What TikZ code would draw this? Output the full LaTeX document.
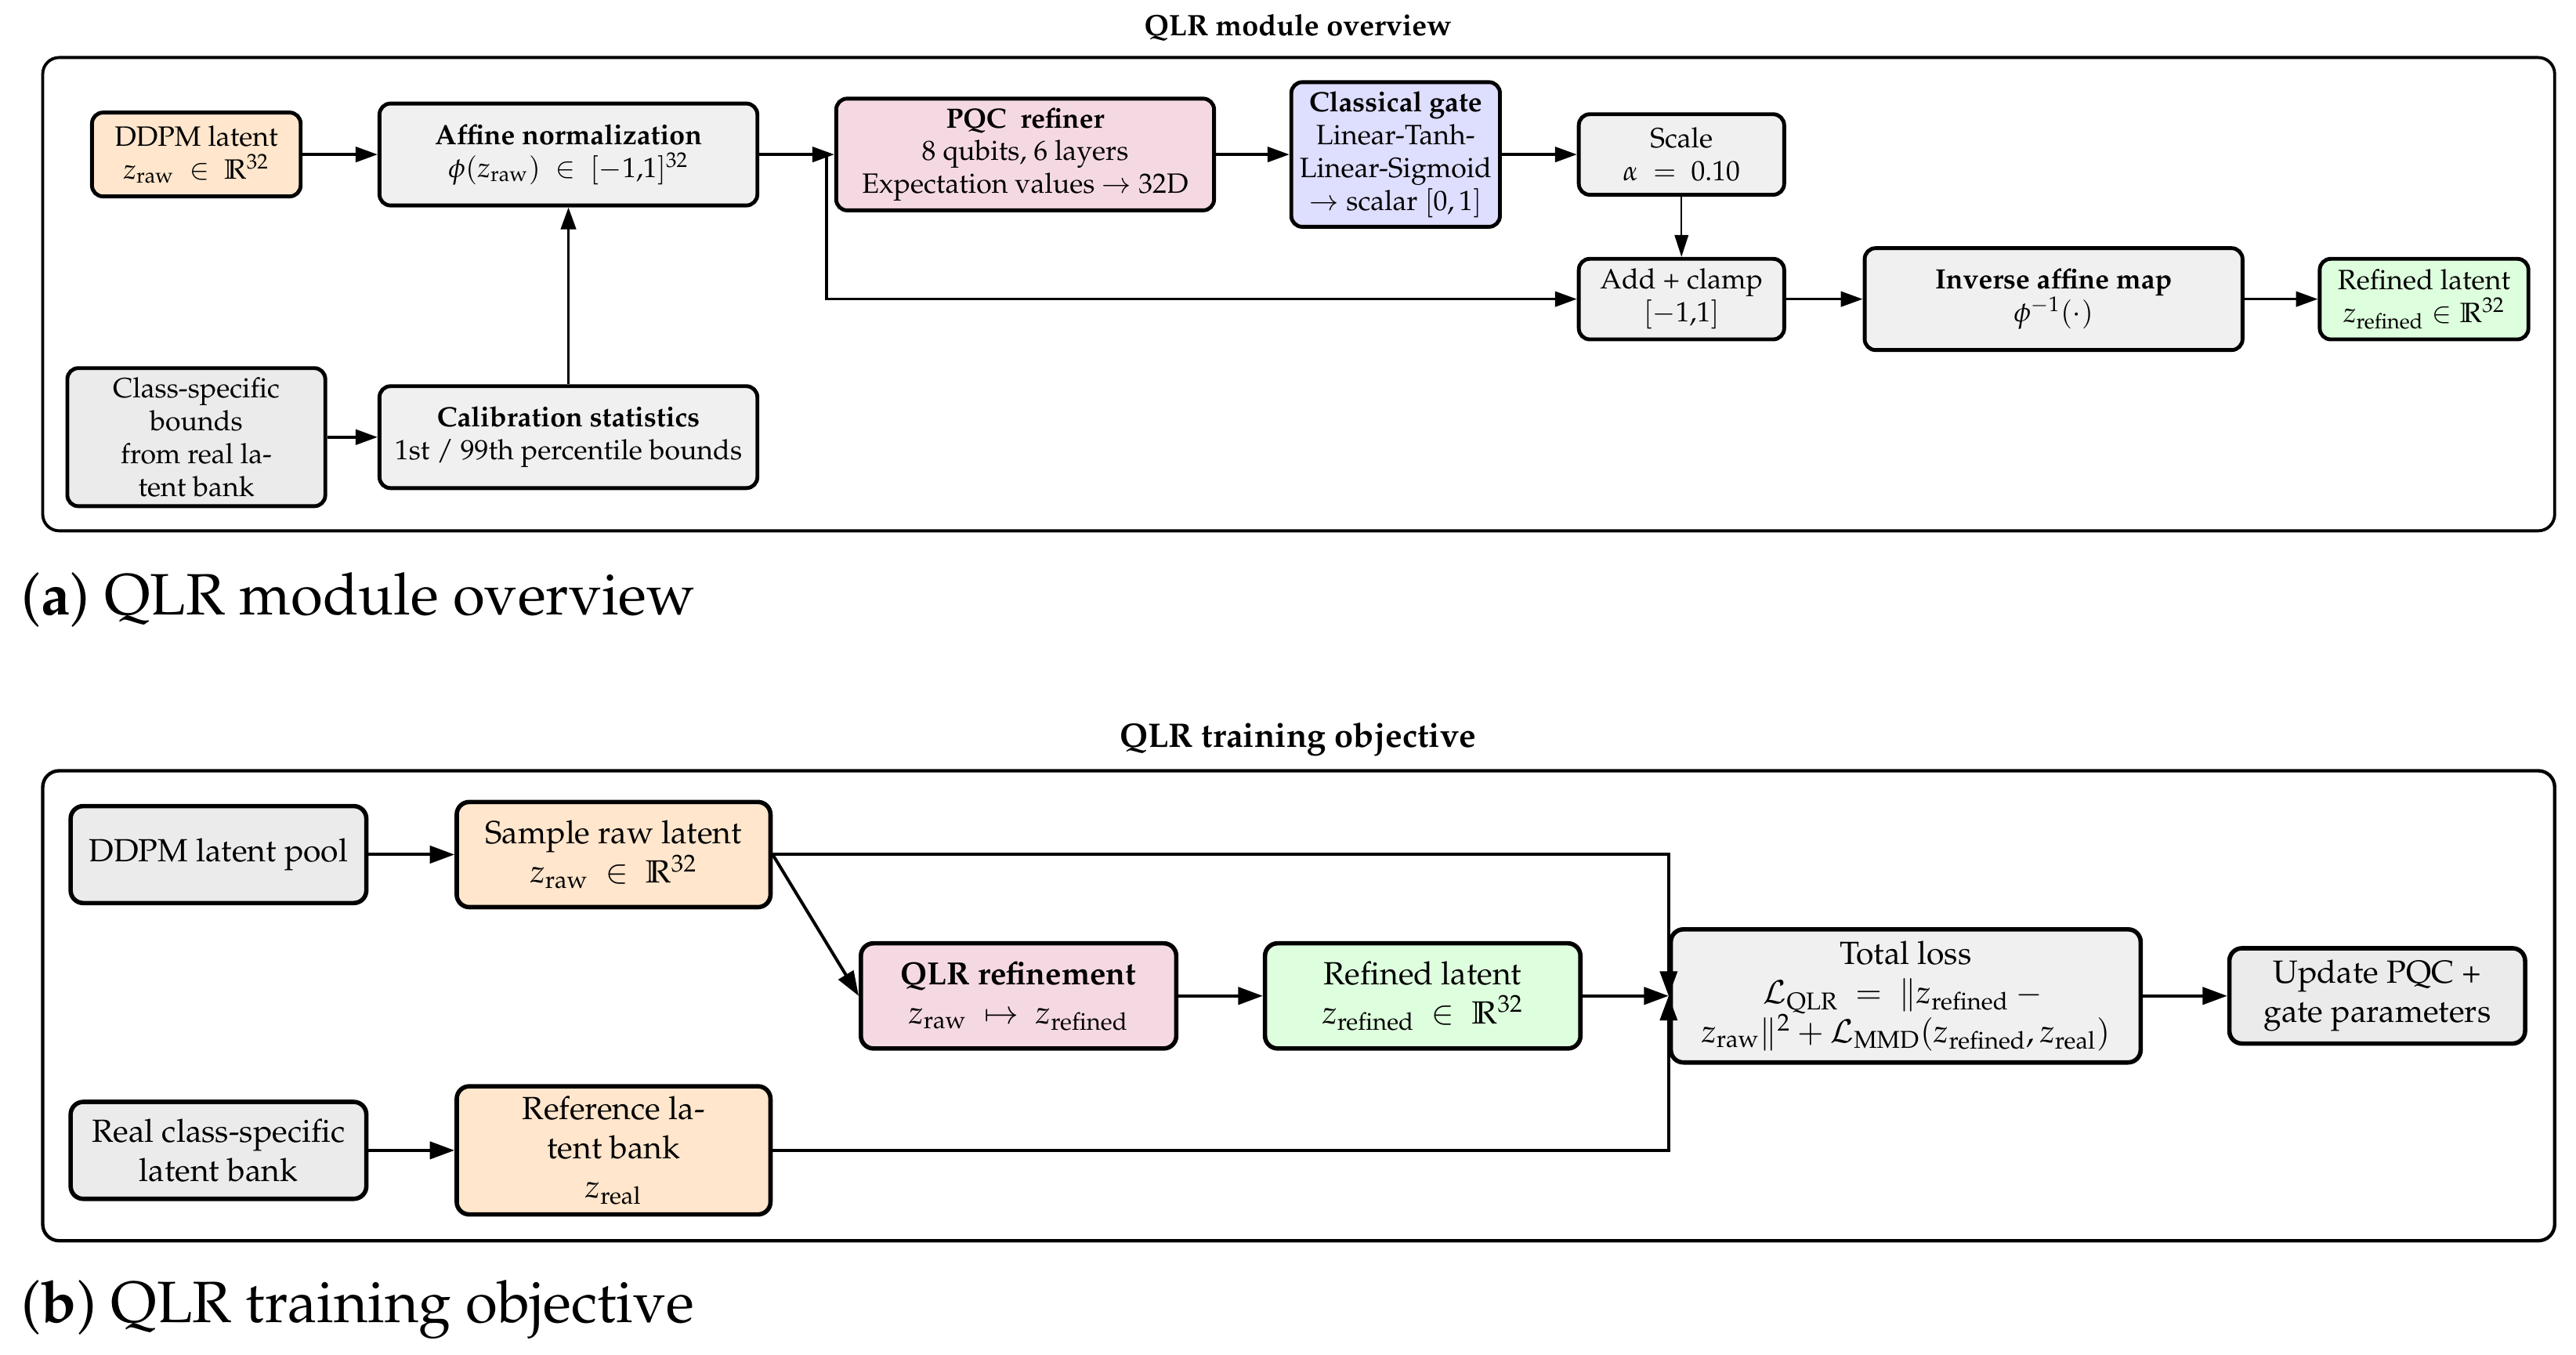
\documentclass[tikz,border=0pt]{standalone}
\usepackage[T1]{fontenc}
\usepackage{mathpazo}
\usetikzlibrary{arrows.meta,calc}
\definecolor{cgray}{RGB}{240,240,240}
\definecolor{cgrayd}{RGB}{235,235,235}
\definecolor{corange}{RGB}{255,230,204}
\definecolor{cpink}{RGB}{245,217,226}
\definecolor{cblue}{RGB}{222,222,255}
\definecolor{cgreen}{RGB}{222,255,222}
\begin{document}
\begin{tikzpicture}[x=0.6pt,y=-0.6pt,
 boxa/.style={draw,line width=1.4pt,rounded corners=4pt,align=center,inner sep=1pt,font=\fontsize{10.2}{12}\selectfont},
 boxb/.style={draw,line width=1.6pt,rounded corners=4.6pt,align=center,inner sep=1pt,font=\fontsize{11.7}{14.3}\selectfont},
 arra/.style={line width=1pt,-{Triangle[length=8pt,width=5.5pt]}},
 arrthin/.style={line width=0.6pt,-{Triangle[length=8pt,width=5pt]}},
 arrb/.style={line width=1.15pt,-{Triangle[length=9pt,width=6.3pt]}},
 frame/.style={line width=1.1pt,rounded corners=6pt},
 ttl/.style={font=\fontsize{10.8}{13}\selectfont\bfseries},
 ttlb/.style={font=\fontsize{12.4}{15}\selectfont\bfseries},
 capt/.style={anchor=west,inner sep=0pt,font=\fontsize{21.3}{25}\selectfont},
]
\useasboundingbox (0,0) rectangle (1568,824.5);

% ---------- panel (a) ----------
\node[ttl] (t1) at (790,17) {QLR module overview};
\draw[frame] (26,35) rectangle (1555,323);

\node[boxa,fill=corange,minimum width=76.2pt,minimum height=30.6pt] (ddpm) at (119.5,94)
 {DDPM latent\\$z_{\mathrm{raw}}\ \in\ \mathbb{R}^{32}$};
\node[boxa,fill=cgray,minimum width=138pt,minimum height=37.2pt] (affine) at (346,94)
 {\textbf{Affine normalization}\\$\phi(z_{\mathrm{raw}})\ \in\ [-1{,}1]^{32}$};
\node[boxa,fill=cpink,minimum width=138pt,minimum height=40.8pt] (pqc) at (624,94)
 {\textbf{PQC\ \ refiner}\\8 qubits, 6 layers\\Expectation values $\to$ 32D};
\node[boxa,fill=cblue,minimum width=76.2pt,minimum height=52.8pt] (gate) at (849.5,94)
 {\textbf{Classical gate}\\Linear-Tanh-\\Linear-Sigmoid\\$\to$ scalar $[0,1]$};
\node[boxa,fill=cgray,minimum width=75pt,minimum height=29.4pt] (scale) at (1023.5,94)
 {Scale\\$\alpha\ =\ 0.10$};
\node[boxa,fill=cgray,minimum width=75pt,minimum height=29.4pt] (add) at (1023.5,182)
 {Add + clamp\\$[-1{,}1]$};
\node[boxa,fill=cgray,minimum width=138pt,minimum height=37.2pt] (inv) at (1250,182)
 {\textbf{Inverse affine map}\\$\phi^{-1}(\cdot)$};
\node[boxa,fill=cgreen,minimum width=76.2pt,minimum height=29.4pt] (refined) at (1475.5,182)
 {Refined latent\\$z_{\mathrm{refined}}\in\mathbb{R}^{32}$};
\node[boxa,fill=cgrayd,minimum width=94.2pt,minimum height=50.4pt] (classb) at (119.5,266)
 {Class-specific\\bounds\\from real la-\\tent bank};
\node[boxa,fill=cgray,minimum width=138pt,minimum height=37.2pt] (calib) at (346,266)
 {\textbf{Calibration statistics}\\1st / 99th percentile bounds};

\coordinate (br) at (503,94);
\draw[arra] (ddpm) -- (affine);
\draw[arra] (affine) -- (pqc);
\draw[arra] (br) |- (add.west);
\draw[arra] (pqc) -- (gate);
\draw[arra] (gate) -- (scale);
\draw[arrthin] (scale) -- (add);
\draw[arra] (add) -- (inv);
\draw[arra] (inv) -- (refined);
\draw[arra] (classb) -- (calib);
\draw[arra] (calib) -- (affine);

\node[capt] (ca) at (13,365) {(\textbf{a}) QLR module overview};

% ---------- panel (b) ----------
\node[ttlb] (t2) at (790,450) {QLR training objective};
\draw[frame,line width=1.25pt] (26,469) rectangle (1555,755);

\node[boxb,fill=cgrayd,minimum width=108pt,minimum height=35.4pt] (pool) at (133,520)
 {DDPM latent pool};
\node[boxb,fill=corange,minimum width=114.6pt,minimum height=38.4pt] (sample) at (373.5,520)
 {Sample raw latent\\$z_{\mathrm{raw}}\ \in\ \mathbb{R}^{32}$};
\node[boxb,fill=cpink,minimum width=115.2pt,minimum height=38.4pt] (qlr) at (620,606)
 {\textbf{QLR refinement}\\$z_{\mathrm{raw}}\ \mapsto\ z_{\mathrm{refined}}$};
\node[boxb,fill=cgreen,minimum width=115.2pt,minimum height=38.4pt] (refb) at (866,606)
 {Refined latent\\$z_{\mathrm{refined}}\ \in\ \mathbb{R}^{32}$};
\node[boxb,fill=cgray,minimum width=171.6pt,minimum height=48.6pt] (total) at (1160,606)
 {Total loss\\$\mathcal{L}_{\mathrm{QLR}}\ =\ \|z_{\mathrm{refined}}-{}$\\$z_{\mathrm{raw}}\|^2+\mathcal{L}_{\mathrm{MMD}}(z_{\mathrm{refined}},z_{\mathrm{real}})$};
\node[boxb,fill=cgrayd,minimum width=108pt,minimum height=34.8pt] (update) at (1447,606)
 {Update PQC +\\gate parameters};
\node[boxb,fill=cgrayd,minimum width=108pt,minimum height=35.4pt] (realbank) at (133,700)
 {Real class-specific\\latent bank};
\node[boxb,fill=corange,minimum width=114.6pt,minimum height=46.8pt] (refbank) at (373.5,700)
 {Reference la-\\tent bank\\$z_{\mathrm{real}}$};

\draw[arrb] (pool) -- (sample);
\draw[arrb] (realbank) -- (refbank);
\draw[arrb] (sample.east) -- (qlr.west);
\draw[arrb] (sample.east) -| (total.west);
\draw[arrb] (qlr) -- (refb);
\draw[arrb] (refb) -- (total);
\draw[arrb] (refbank.east) -| (total.west);
\draw[arrb] (total) -- (update);

\node[capt] (cb) at (13,797) {(\textbf{b}) QLR training objective};
\end{tikzpicture}
\end{document}
